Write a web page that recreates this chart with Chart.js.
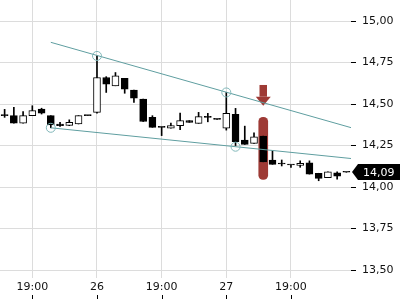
<!DOCTYPE html>
<html>
<head>
<meta charset="utf-8">
<script src="https://cdn.jsdelivr.net/npm/chart.js@4/dist/chart.umd.min.js"></script>
<style>
html, body { margin: 0; padding: 0; background: #fff; }
#wrap { position: relative; width: 400px; height: 300px; }
</style>
</head>
<body>
<div id="wrap"><canvas id="chart"></canvas></div>
<script>
// candles, one per bar
const opens  = [14.430, 14.430, 14.385, 14.430, 14.470, 14.430, 14.380, 14.372, 14.380, 14.430,
                14.450, 14.660, 14.610, 14.655, 14.585, 14.530, 14.420, 14.360, 14.355, 14.370,
                14.400, 14.384, 14.420, 14.408, 14.354, 14.438, 14.283, 14.263, 14.307, 14.163,
                14.139, 14.133, 14.131, 14.146, 14.083, 14.056, 14.086, 14.089];
const highs  = [14.468, 14.480, 14.455, 14.490, 14.475, 14.430, 14.390, 14.405, 14.430, 14.430,
                14.790, 14.665, 14.690, 14.655, 14.585, 14.530, 14.430, 14.360, 14.385, 14.445,
                14.400, 14.450, 14.444, 14.408, 14.570, 14.474, 14.367, 14.327, 14.307, 14.217,
                14.163, 14.133, 14.158, 14.158, 14.083, 14.092, 14.092, 14.089];
const lows   = [14.420, 14.385, 14.385, 14.430, 14.440, 14.357, 14.365, 14.370, 14.380, 14.430,
                14.445, 14.570, 14.610, 14.565, 14.510, 14.395, 14.360, 14.310, 14.355, 14.345,
                14.390, 14.384, 14.393, 14.408, 14.343, 14.250, 14.257, 14.263, 14.152, 14.137,
                14.127, 14.119, 14.119, 14.078, 14.038, 14.056, 14.048, 14.089];
const closes = [14.430, 14.385, 14.430, 14.460, 14.445, 14.375, 14.370, 14.390, 14.430, 14.430,
                14.660, 14.620, 14.670, 14.590, 14.535, 14.395, 14.360, 14.360, 14.370, 14.400,
                14.390, 14.424, 14.420, 14.408, 14.444, 14.273, 14.257, 14.303, 14.152, 14.137,
                14.139, 14.133, 14.143, 14.078, 14.052, 14.092, 14.066, 14.089];

// time axis labels (bar index -> text)
const tickIdx  = [3, 10, 17, 24, 31];
const tickText = ['19:00', '26', '19:00', '27', '19:00'];
const priceTicks = [13.50, 13.75, 14.00, 14.25, 14.50, 14.75, 15.00];

// drawn trendlines and their touch points
const upperLine = [{x: 5, y: 14.872}, {x: 37.5, y: 14.358}];
const lowerLine = [{x: 5, y: 14.357}, {x: 37.5, y: 14.172}];
const touches   = [{x: 5, y: 14.357}, {x: 10, y: 14.79}, {x: 24, y: 14.57}, {x: 25, y: 14.243}];

// signal marker
const signalIdx  = 28;
const signalBand = [14.046, 14.42];
const arrowSpan  = [14.615, 14.49];
const lastPrice  = 14.09;

const font = { family: 'DejaVu Sans', size: 11 };
const teal = '#5f9ea0';
const signalRed = '#9e3a35';

const bodies = opens.map((o, i) => ({ x: i, y: [o, closes[i]] }));
const wicks = opens.map((o, i) => ({ x: i, y: [lows[i], highs[i]] }));

const markup = {
  id: 'markup',
  beforeDatasetsDraw(chart) {
    const { ctx, scales: { x, y } } = chart;
    const cx = x.getPixelForValue(signalIdx);
    const top = y.getPixelForValue(arrowSpan[0]);
    const tip = y.getPixelForValue(arrowSpan[1]);
    ctx.save();
    ctx.fillStyle = signalRed;
    ctx.fillRect(cx - 3.75, top, 7.5, tip - 9 - top);
    ctx.beginPath();
    ctx.moveTo(cx - 7.5, tip - 9);
    ctx.lineTo(cx + 7.5, tip - 9);
    ctx.lineTo(cx, tip);
    ctx.closePath();
    ctx.fill();
    ctx.restore();
  },
  afterDraw(chart) {
    const { ctx, chartArea, scales: { x, y } } = chart;
    const py = y.getPixelForValue(lastPrice);
    const x0 = chartArea.right + 1;
    ctx.save();
    ctx.fillStyle = '#000';
    ctx.beginPath();
    ctx.moveTo(x0, py);
    ctx.lineTo(x0 + 6, py - 8);
    ctx.lineTo(chart.width, py - 8);
    ctx.lineTo(chart.width, py + 8);
    ctx.lineTo(x0 + 6, py + 8);
    ctx.closePath();
    ctx.fill();
    ctx.fillStyle = '#fff';
    ctx.font = '11px "DejaVu Sans"';
    ctx.textBaseline = 'middle';
    ctx.fillText(lastPrice.toFixed(2).replace('.', ','), x0 + 11, py + 1);
    // little tick marks under the time labels
    ctx.strokeStyle = '#000';
    ctx.lineWidth = 1;
    tickIdx.forEach(i => {
      const px = Math.round(x.getPixelForValue(i)) + 0.5;
      ctx.beginPath();
      ctx.moveTo(px, chart.height - 5);
      ctx.lineTo(px, chart.height - 1);
      ctx.stroke();
    });
    ctx.restore();
  }
};

const noPad = s => {
  s.paddingTop = 0; s.paddingBottom = 0; s.paddingLeft = 0; s.paddingRight = 0;
};

new Chart(document.getElementById('chart'), {
  type: 'bar',
  data: {
    datasets: [
      {
        type: 'line', data: touches, order: 0, showLine: false,
        pointRadius: 4.5, pointBorderWidth: 1,
        pointBorderColor: '#80b7b9', pointBackgroundColor: 'rgba(0,0,0,0)'
      },
      { type: 'line', data: upperLine, order: 1, borderColor: teal, borderWidth: 1, pointRadius: 0, fill: false },
      { type: 'line', data: lowerLine, order: 1, borderColor: teal, borderWidth: 1, pointRadius: 0, fill: false },
      {
        data: bodies, order: 2, grouped: false, barThickness: 7, minBarLength: 1,
        borderWidth: 1, borderSkipped: false, borderColor: '#000',
        backgroundColor: ctx => closes[ctx.dataIndex] > opens[ctx.dataIndex] ? '#fff' : '#000'
      },
      { data: wicks, order: 3, grouped: false, barThickness: 1, backgroundColor: '#000' },
      {
        data: [{ x: signalIdx, y: signalBand }], order: 4, grouped: false,
        barThickness: 9, borderRadius: 5, borderSkipped: false, backgroundColor: signalRed
      }
    ]
  },
  options: {
    responsive: true,
    maintainAspectRatio: false,
    animation: false,
    layout: { padding: 0, autoPadding: false },
    plugins: { legend: { display: false }, tooltip: { enabled: false } },
    scales: {
      x: {
        type: 'linear', min: -0.5, max: 37.5, offset: false,
        afterBuildTicks: s => { s.ticks = tickIdx.map(v => ({ value: v })); },
        afterFit: s => { s.height = 22; noPad(s); },
        ticks: {
          autoSkip: false, maxRotation: 0, padding: 3, font, color: '#111',
          callback: v => tickText[tickIdx.indexOf(v)]
        },
        grid: { color: '#dcdcdc', drawTicks: false, offset: false },
        border: { display: false }
      },
      y: {
        position: 'right', min: 13.452, max: 15.127,
        afterBuildTicks: s => { s.ticks = priceTicks.map(v => ({ value: v })); },
        afterFit: s => { s.width = 49; noPad(s); },
        ticks: {
          padding: 6, font, color: '#111',
          callback: v => v.toFixed(2).replace('.', ',')
        },
        grid: { color: '#dcdcdc', tickColor: '#000', tickLength: 5 },
        border: { display: false }
      }
    }
  },
  plugins: [markup]
});
</script>
</body>
</html>
